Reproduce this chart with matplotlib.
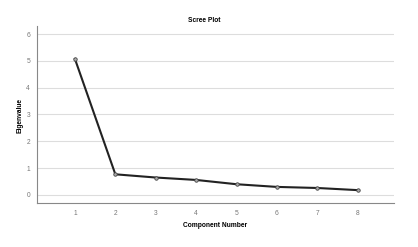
import numpy as np
import matplotlib.pyplot as plt

components = [1, 2, 3, 4, 5, 6, 7, 8]
eigenvalues = [5.07, 0.77, 0.65, 0.56, 0.40, 0.30, 0.26, 0.18]
y_ticks = [0, 1, 2, 3, 4, 5, 6]

plt.rcParams['font.family'] = ['Liberation Sans', 'DejaVu Sans']

fig = plt.figure(figsize=(4.18, 2.47), dpi=100)
ax = fig.add_axes([37 / 418, 1 - 203 / 247, (394 - 37) / 418, (203 - 26) / 247])

ax.plot(components, eigenvalues, color='#222222', linewidth=1.5, zorder=3,
        marker='o', markersize=2.5, markerfacecolor='#aaaaaa',
        markeredgecolor='#444444', markeredgewidth=0.6)

ax.set_xlim(0.06, 8.9)
ax.set_ylim(-0.3, 6.3)
ax.set_xticks(components)
ax.set_yticks(y_ticks)
ax.yaxis.grid(True, color='#dddddd', linewidth=0.8)
ax.set_axisbelow(True)
ax.tick_params(length=0, labelsize=4.8, labelcolor='#777777', pad=5)
for side in ['top', 'right']:
    ax.spines[side].set_visible(False)
for side in ['left', 'bottom']:
    ax.spines[side].set_color('#888888')
    ax.spines[side].set_linewidth(0.8)

fig.text(204 / 418, 1 - 20 / 247, "Scree Plot", ha='center', va='center',
         fontsize=4.8, fontweight='bold')
fig.text(215 / 418, 1 - 225 / 247, "Component Number", ha='center', va='center',
         fontsize=4.8, fontweight='bold')
fig.text(20 / 418, 1 - 115 / 247, "Eigenvalue", ha='center', va='center',
         fontsize=4.8, fontweight='bold', rotation=90)

fig.savefig("out.png", dpi=100)
